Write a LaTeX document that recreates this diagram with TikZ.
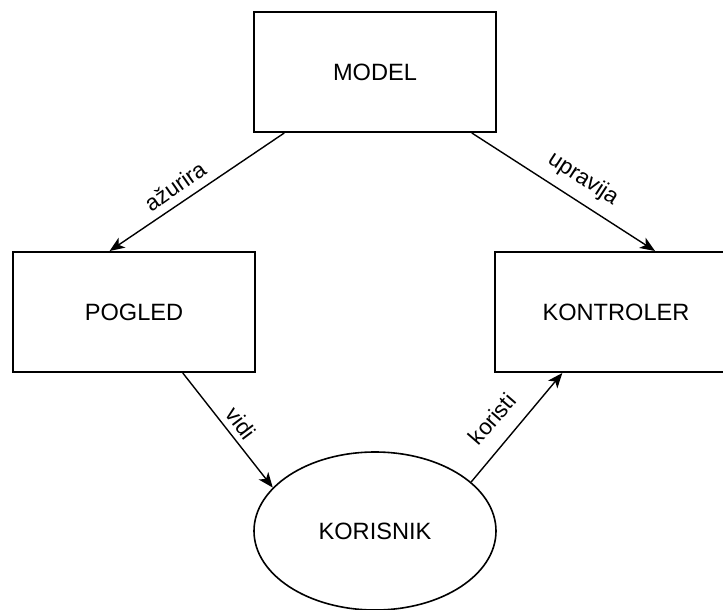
\documentclass[tikz,border=0pt]{standalone}
\usepackage{fontspec}
\setmainfont{Liberation Sans}
\usetikzlibrary{shapes.geometric,arrows.meta,calc}
\begin{document}
\begin{tikzpicture}[x=1pt,y=-1pt,
  boxnode/.style={draw=black,line width=2pt,minimum width=242pt,minimum height=120pt,inner sep=0pt,font=\fontsize{23.6}{28}\selectfont},
  ellnode/.style={draw=black,ellipse,line width=1.6pt,minimum width=242pt,minimum height=158pt,inner sep=0pt,font=\fontsize{23.6}{28}\selectfont},
  conn/.style={line width=1.4pt,-{Stealth[length=15pt,width=12pt,inset=4pt]}},
  lbl/.style={font=\fontsize{22.5}{26}\selectfont,inner sep=0pt}]
\useasboundingbox (0,0) rectangle (723,610);
\clip (0,0) rectangle (723,610);
\fill[white] (0,0) rectangle (723,610);
\node[boxnode] (model) at (375,72) {MODEL};
\node[boxnode] (pogled) at (134,312) {POGLED};
\node[boxnode] (kontroler) at (616,312) {KONTROLER};
\node[ellnode] (korisnik) at (375,531) {KORISNIK};
\draw[conn] ($(model.south west)!0.128!(model.south east)$) -- ($(pogled.north west)!0.40!(pogled.north east)$);
\draw[conn] ($(model.south west)!0.897!(model.south east)$) -- ($(kontroler.north west)!0.66!(kontroler.north east)$);
\draw[conn] ($(pogled.south west)!0.70!(pogled.south east)$) -- (korisnik.157);
\draw[conn] (korisnik.27) -- ($(kontroler.south west)!0.28!(kontroler.south east)$);
\node[lbl,rotate=35] (l1) at (175,186) {ažurira};
\node[lbl,rotate=-33] (l2) at (583,179) {upravija};
\node[lbl,rotate=-53] (l3) at (241,423) {vidi};
\node[lbl,rotate=49] (l4) at (492,419) {koristi};
\end{tikzpicture}
\end{document}
